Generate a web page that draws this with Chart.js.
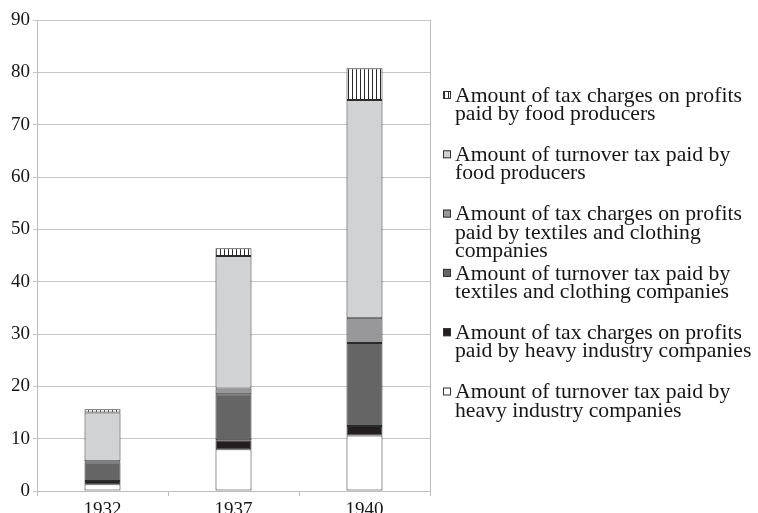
<!DOCTYPE html>
<html>
<head>
<meta charset="utf-8">
<script src="https://cdn.jsdelivr.net/npm/chart.js@4/dist/chart.umd.min.js"></script>
<style>
  html, body { margin: 0; padding: 0; background: #fff; }
  #wrap { width: 758px; height: 513px; }
</style>
</head>
<body>
<div id="wrap"><canvas id="chart" width="758" height="513"></canvas></div>
<script>
// === Data ===
var years = ['1932', '1937', '1940'];

var heavyTurnover    = [1.3, 8.0, 10.6];
var heavyProfits     = [0.6, 1.7, 1.8];
var textileTurnover  = [3.6, 8.8, 15.9];
var textileProfits   = [0.2, 1.1, 4.8];
var foodTurnover     = [9.3, 25.3, 41.6];
var foodProfits      = [0.6, 1.5, 6.1];

var seriesLabels = [
  ['Amount of turnover tax paid by', 'heavy industry companies'],
  ['Amount of tax charges on profits', 'paid by heavy industry companies'],
  ['Amount of turnover tax paid by', 'textiles and clothing companies'],
  ['Amount of tax charges on profits', 'paid by textiles and clothing', 'companies'],
  ['Amount of turnover tax paid by', 'food producers'],
  ['Amount of tax charges on profits', 'paid by food producers']
];

var yTicks = [0, 10, 20, 30, 40, 50, 60, 70, 80, 90];

var FONT = '"Liberation Serif", "Times New Roman", serif';

// vertical hatch for the food profits segment
function makeHatch() {
  var c = document.createElement('canvas');
  c.width = 4; c.height = 4;
  var g = c.getContext('2d');
  g.fillStyle = '#ffffff';
  g.fillRect(0, 0, 4, 4);
  g.fillStyle = '#2a2a2a';
  g.fillRect(0, 0, 1, 4);
  return g.createPattern(c, 'repeat');
}
var hatch = makeHatch();

var fills = ['#ffffff', '#231f20', '#656565', '#98989a', '#d1d2d4', hatch];
var seriesData = [heavyTurnover, heavyProfits, textileTurnover, textileProfits, foodTurnover, foodProfits];

var datasets = seriesData.map(function(d, i) {
  return {
    label: seriesLabels[i].join(' '),
    data: d,
    backgroundColor: fills[i],
    borderColor: '#2b2b2b',
    borderWidth: 1,
    borderSkipped: false,
    barPercentage: 0.275,
    categoryPercentage: 1
  };
});

// legend on the right, drawn from the datasets (top entry = last dataset)
var sideLegend = {
  id: 'sideLegend',
  afterDraw: function(chart) {
    var ctx = chart.ctx;
    var area = chart.chartArea;
    ctx.save();
    // right border of the plot
    ctx.strokeStyle = '#bdbdbd';
    ctx.lineWidth = 1;
    ctx.beginPath();
    ctx.moveTo(area.right + 0.5, area.top);
    ctx.lineTo(area.right + 0.5, area.bottom);
    ctx.stroke();

    var ds = chart.data.datasets;
    var x0 = area.right + 13;
    var tx = area.right + 25;
    ctx.font = '21.7px ' + FONT;
    ctx.textBaseline = 'middle';
    for (var k = 0; k < ds.length; k++) {
      var i = ds.length - 1 - k;
      var cy = 95 + k * 59.3;
      ctx.fillStyle = ds[i].backgroundColor;
      ctx.fillRect(x0, cy - 4, 8, 8);
      ctx.strokeStyle = '#333';
      ctx.strokeRect(x0 + 0.5, cy - 3.5, 7, 7);
      ctx.fillStyle = '#161616';
      var lines = seriesLabels[i];
      for (var j = 0; j < lines.length; j++) {
        ctx.fillText(lines[j], tx, cy + 1 + j * 18.5);
      }
    }
    ctx.restore();
  }
};

new Chart(document.getElementById('chart').getContext('2d'), {
  type: 'bar',
  data: { labels: years, datasets: datasets },
  options: {
    responsive: false,
    animation: false,
    layout: { padding: { top: 20, right: 328, bottom: 0, left: 0 } },
    plugins: {
      legend: { display: false },
      tooltip: { enabled: false }
    },
    scales: {
      x: {
        stacked: true,
        offset: true,
        grid: { offset: true, drawOnChartArea: false, drawTicks: true, tickLength: 5, color: '#bdbdbd' },
        border: { color: '#bdbdbd' },
        ticks: { font: { family: FONT, size: 19 }, color: '#161616', padding: 3 },
        afterFit: function(s) { s.height = 22; }
      },
      y: {
        stacked: true,
        min: 0,
        max: 90,
        afterBuildTicks: function(s) { s.ticks = yTicks.map(function(v) { return { value: v }; }); },
        grid: { color: '#c6c6c6', tickLength: 4 },
        border: { color: '#bdbdbd' },
        ticks: { font: { family: FONT, size: 19 }, color: '#161616', padding: 3 },
        afterFit: function(s) { s.width = 37; }
      }
    }
  },
  plugins: [sideLegend]
});
</script>
</body>
</html>
